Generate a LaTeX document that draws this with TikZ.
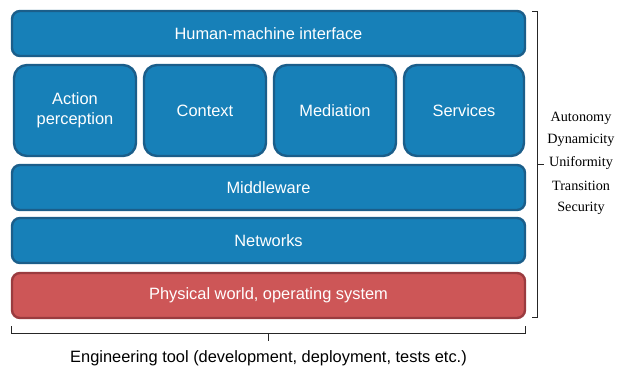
\documentclass[tikz,border=0pt]{standalone}
\usepackage{fontspec}
\setmainfont{Liberation Sans}
\newfontfamily\serifrm{Liberation Serif}
\definecolor{bfill}{HTML}{1780B8}
\definecolor{bdraw}{HTML}{1B5E8A}
\definecolor{rfill}{HTML}{CD5657}
\definecolor{rdraw}{HTML}{9A3B3F}
\begin{document}
\begin{tikzpicture}[x=1pt,y=-1pt,
  layer/.style={draw=bdraw,fill=bfill,line width=2.4pt,rounded corners=8pt,text=white,font=\fontsize{16.4}{19.5}\selectfont,inner sep=0pt,align=center},
  cell/.style={layer,rounded corners=13pt},
  redlayer/.style={layer,draw=rdraw,fill=rfill},
  prop/.style={font=\serifrm\fontsize{14.2}{16}\selectfont,anchor=center},
  brk/.style={line width=0.9pt,black!85}]
\useasboundingbox (0,0) rectangle (617,372);
\node[layer,minimum width=513pt,minimum height=45pt] (hmi) at (268.5,33.5) {Human-machine interface};
\node[cell,minimum width=122pt,minimum height=91pt] (ap) at (75,110.5) {Action\\perception};
\node[cell,minimum width=122pt,minimum height=91pt] (ctx) at (205,110.5) {Context};
\node[cell,minimum width=122pt,minimum height=91pt] (med) at (335,110.5) {Mediation};
\node[cell,minimum width=120pt,minimum height=91pt] (srv) at (464,110.5) {Services};
\node[layer,minimum width=513pt,minimum height=45pt] (mw) at (268.5,187.5) {Middleware};
\node[layer,minimum width=513pt,minimum height=45pt] (net) at (268.5,240.5) {Networks};
\node[redlayer,minimum width=513pt,minimum height=45pt] (phy) at (268.5,295.5) {Physical world, operating system};
% right bracket
\coordinate (rt) at (532,11);
\coordinate (rb) at (532,317);
\coordinate (rm) at (537.5,164);
\draw[brk] (rt) -- (537.5,11) -- (537.5,317) -- (rb);
\draw[brk] (rm) -- (544,164);
\node[prop] (p1) at (581,118) {Autonomy};
\node[prop] (p2) at (581,140.5) {Dynamicity};
\node[prop] (p3) at (581,163) {Uniformity};
\node[prop] (p4) at (581,185.5) {Transition};
\node[prop] (p5) at (581,208) {Security};
% bottom bracket
\coordinate (bl) at (11.5,326);
\coordinate (br) at (525,326);
\coordinate (bm) at (268.5,333);
\draw[brk] (bl) -- (11.5,333) -- (525,333) -- (br);
\draw[brk] (bm) -- (268.5,340.5);
\node[font=\fontsize{16.4}{19.5}\selectfont] (eng) at (268.5,358) {Engineering tool (development, deployment, tests etc.)};
\end{tikzpicture}
\end{document}
